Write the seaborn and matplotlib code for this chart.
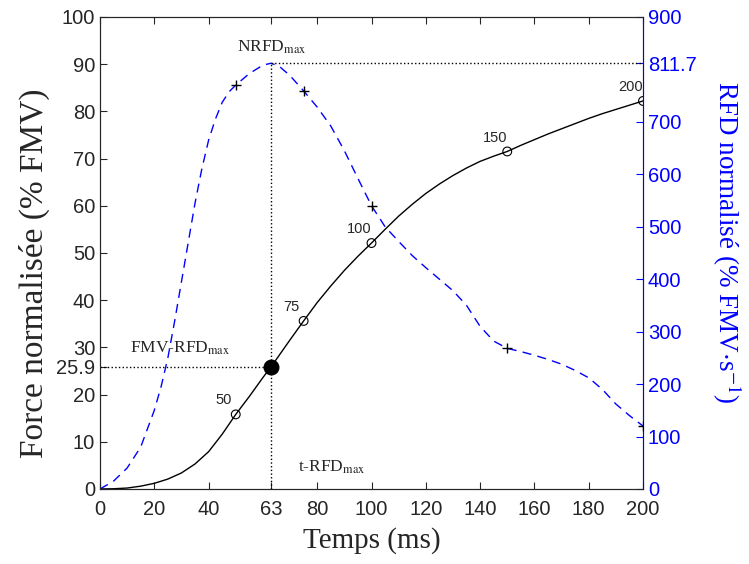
import matplotlib
matplotlib.use("Agg")
import matplotlib.pyplot as plt
import seaborn as sns
import pandas as pd

# force normalisee (% FMV)
temps_force = [0, 5, 10, 15, 20, 25, 30, 35, 40, 45, 50, 55, 60, 63, 65, 70, 75, 80, 85, 90, 95, 100,
               105, 110, 115, 120, 125, 130, 135, 140, 145, 150, 155, 160, 165, 170, 175, 180, 185, 190, 195, 200]
force = [0, 0.05, 0.2, 0.6, 1.2, 2.1, 3.4, 5.3, 7.9, 11.6, 15.8, 19.6, 23.6, 25.9, 27.5, 31.6, 35.6, 39.5, 43.0, 46.3, 49.3, 52.1,
         55.0, 57.8, 60.3, 62.6, 64.6, 66.4, 68.0, 69.4, 70.5, 71.5, 72.8, 74.0, 75.2, 76.3, 77.4, 78.5, 79.5, 80.4, 81.3, 82.2]

# RFD normalise (% FMV/s)
temps_rfd = [0, 5, 10, 15, 17.5, 20, 22.5, 25, 27.5, 30, 32.5, 35, 37.5, 40, 42.5, 45, 47.5, 50, 55, 60, 63, 66, 70, 75,
             80, 85, 90, 95, 100, 105, 110, 115, 120, 125, 130, 135, 140, 145, 150, 155, 160, 165, 170, 175, 180, 185, 190, 195, 200]
rfd = [0, 15, 40, 80, 115, 150, 195, 250, 320, 395, 470, 545, 610, 665, 705, 737, 757, 770, 792, 808, 811.7, 806, 788, 759,
       728, 692, 645, 592, 540, 500, 472, 445, 422, 400, 378, 350, 310, 282, 268, 262, 255, 247, 238, 226, 212, 190, 162, 140, 120]

marqueurs_t = [50, 75, 100, 150, 200]
marqueurs_force = [15.8, 35.6, 52.1, 71.5, 82.2]
marqueurs_rfd = [770, 759, 540, 268, 120]
etiquettes = ["50", "75", "100", "150", "200"]

t_max = 63
force_max = 25.9
rfd_max = 811.7

sns.set_style("ticks")
plt.rcParams["font.family"] = ["Liberation Sans", "DejaVu Sans"]
plt.rcParams["mathtext.fontset"] = "stix"
plt.rcParams["xtick.direction"] = "in"
plt.rcParams["ytick.direction"] = "in"

df_force = pd.DataFrame({"t": temps_force, "f": force})
df_rfd = pd.DataFrame({"t": temps_rfd, "r": rfd})
df_marq = pd.DataFrame({"t": marqueurs_t, "f": marqueurs_force, "r": marqueurs_rfd})

fig = plt.figure(figsize=(7.49, 5.64), dpi=100)
ax = fig.add_axes([0.1335, 0.133, 0.725, 0.837])
ax2 = ax.twinx()

sns.lineplot(data=df_force, x="t", y="f", ax=ax, color="black", lw=1)
sns.scatterplot(data=df_marq, x="t", y="f", ax=ax, marker="o", s=40,
                facecolor="none", edgecolor="black", linewidth=0.8, zorder=5)
for t, f, lab in zip(marqueurs_t, marqueurs_force, etiquettes):
    ax.annotate(lab, (t, f), xytext=(-9, 5), textcoords="offset points",
                ha="center", va="bottom", fontsize=10.5)

sns.lineplot(data=df_rfd, x="t", y="r", ax=ax2, color="blue", lw=1)
ax2.lines[-1].set_dashes([6.5, 4.5])
sns.scatterplot(data=df_marq, x="t", y="r", ax=ax2, marker="+", s=60,
                color="black", linewidth=1, zorder=5)

# repere du RFD max
ax.plot([0, t_max], [force_max, force_max], ls=":", color="black", lw=1)
ax.plot([t_max, t_max], [0, rfd_max / 9], ls=":", color="black", lw=1)
ax2.plot([t_max, 200], [rfd_max, rfd_max], ls=":", color="black", lw=1)
ax.scatter([t_max], [force_max], s=110, color="black", zorder=6)

serif = ["Liberation Serif", "DejaVu Serif"]
ax.text(63.1, 93.6, r"NRFD$_{\mathrm{max}}$", ha="center", va="center", fontsize=12.5, family=serif)
ax.text(29.5, 29.9, r"FMV-RFD$_{\mathrm{max}}$", ha="center", va="center", fontsize=12.5, family=serif)
ax.text(85.3, 4.7, r"t-RFD$_{\mathrm{max}}$", ha="center", va="center", fontsize=12.5, family=serif)

ax.set_xlim(0, 200)
ax.set_ylim(0, 100)
ax2.set_ylim(0, 900)
ax.set_xticks([0, 20, 40, 63, 80, 100, 120, 140, 160, 180, 200])
ax.set_yticks([0, 10, 20, 25.9, 30, 40, 50, 60, 70, 80, 90, 100])
ax.set_yticklabels(["0", "10", "20", "25.9", "30", "40", "50", "60", "70", "80", "90", "100"])
ax2.set_yticks([0, 100, 200, 300, 400, 500, 600, 700, 811.7, 900])
ax2.set_yticklabels(["0", "100", "200", "300", "400", "500", "600", "700", "811.7", "900"])
ax.tick_params(labelsize=14.5, length=5, top=True)
ax.tick_params(axis="x", pad=8)
ax2.tick_params(labelsize=14.5, length=5, colors="blue")
ax2.spines["right"].set_color("blue")

ax.set_xlabel("Temps (ms)", fontsize=21, family=serif, labelpad=6)
ax.set_ylabel("Force normalisée (% FMV)", fontsize=24, family=serif, labelpad=4)
ax2.set_ylabel(r"RFD normalisé (% FMV$\cdot$s$^{-1}$)", fontsize=19.5, family=serif,
               color="blue", rotation=-90, labelpad=34)
ax.yaxis.label.set_y(0.458)
ax2.yaxis.label.set_y(0.523)

plt.savefig("out.png", dpi=100)
